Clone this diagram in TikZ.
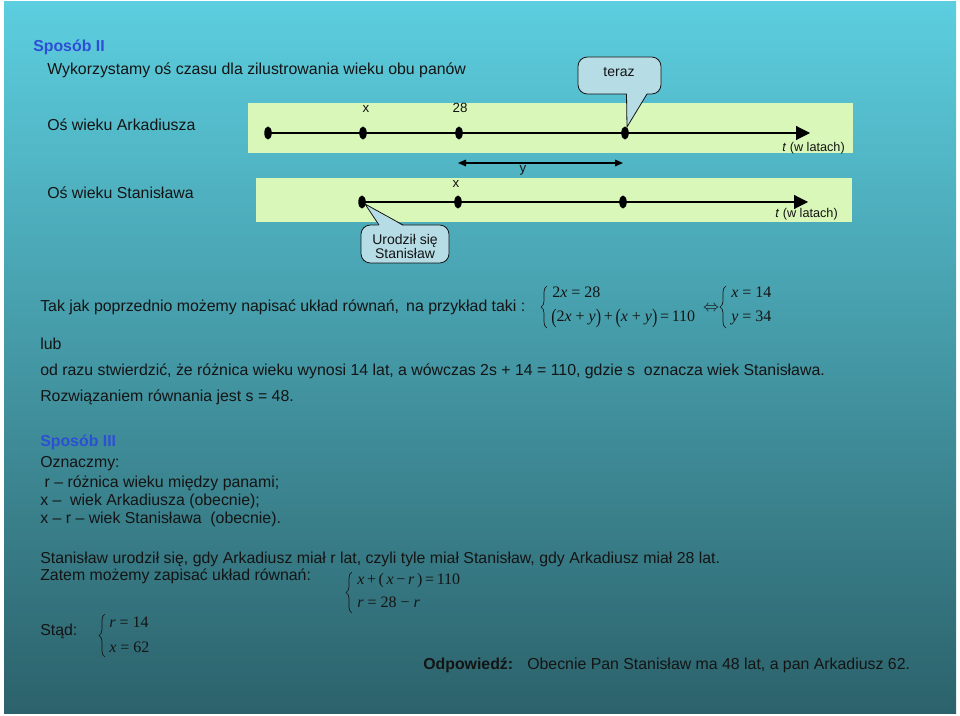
\documentclass[tikz,border=0pt]{standalone}
\usepackage{fontspec}
\setmainfont{Liberation Sans}
\newfontfamily\tms{Liberation Serif}
\usetikzlibrary{arrows.meta,decorations.pathreplacing,shapes.geometric}
\definecolor{bgtop}{HTML}{5CCEDF}
\definecolor{bgmid}{HTML}{46A7B7}
\definecolor{bgbot}{HTML}{2C626B}
\definecolor{band}{HTML}{D8F7B9}
\definecolor{callfill}{HTML}{B6DCE6}
\definecolor{blueh}{HTML}{2D4FD6}
\definecolor{ink}{HTML}{141414}
\newcommand\bp[1]{\raisebox{-0.12em}{\scalebox{1}[1.3]{#1}}}
\newcommand\ix[1]{\textit{#1}}
\begin{document}
\begin{tikzpicture}[x=0.75pt,y=-0.75pt,
  txt/.style={anchor=base west, inner sep=0pt, font=\fontsize{11.9}{14}\selectfont, text=ink},
  heading/.style={txt, font=\fontsize{11.9}{14}\selectfont\bfseries, text=blueh},
  lbl/.style={anchor=base, inner sep=0pt, font=\fontsize{10}{12}\selectfont, text=ink},
  eqn/.style={anchor=base west, inner sep=0pt, font=\fontsize{12}{14}\selectfont\tms, text=ink},
  dotnode/.style={ellipse, fill=black, inner sep=0pt, minimum width=5.6pt, minimum height=9.8pt},
  axis/.style={draw=black, line width=0.85pt},
  bigtip/.style={-{Triangle[length=10.5pt,width=10.5pt]}},
  callout/.style={fill=callfill, draw=ink, line width=0.6pt},
  sysbrace/.style={draw=ink, line width=0.5pt, decorate, decoration={brace, amplitude=4.5pt}}
]
\useasboundingbox (0,0) rectangle (960,716);
\fill[white] (0,0) rectangle (960,716);
\shade[top color=bgtop, middle color=bgmid, bottom color=bgbot] (4,2) rectangle (956,713);

% headings
\node[heading] (h2) at (33,52) {Sposób II};
\node[txt] (intro) at (47,75) {Wykorzystamy oś czasu dla zilustrowania wieku obu panów};

% bands
\fill[band] (248,103) rectangle (853,153);
\fill[band] (256,178) rectangle (852,222);

\node[txt] (ax1) at (47,131) {Oś wieku Arkadiusza};
\node[txt] (ax2) at (47,199) {Oś wieku Stanisława};

% upper timeline
\node[dotnode] (a1) at (268,133) {};
\node[dotnode] (a2) at (363,133) {};
\node[dotnode] (a3) at (459,133) {};
\node[dotnode] (a4) at (625,133) {};
\coordinate (aend) at (810,133);
\draw[axis,bigtip] (a1.center) -- (aend);
\node[lbl] (lx1) at (366,113) {x};
\node[lbl] (l28) at (460,113) {28};
\node[anchor=base east, inner sep=0pt, font=\fontsize{9.5}{12}\selectfont, text=ink] (t1) at (845,152) {\textit{t} (w latach)};

% middle arrow
\coordinate (m1) at (458,163);
\coordinate (m2) at (623,163);
\draw[line width=0.85pt, {Triangle[length=6pt,width=5pt]}-{Triangle[length=6pt,width=5pt]}] (m1) -- (m2);
\node[lbl] (ly) at (523,173) {y};

% lower timeline
\node[dotnode] (b1) at (362,202) {};
\node[dotnode] (b2) at (458,202) {};
\node[dotnode] (b3) at (623,202) {};
\coordinate (bend) at (808,202);
\draw[axis,bigtip] (b1.center) -- (bend);
\node[lbl] (lx2) at (456,188) {x};
\node[anchor=base east, inner sep=0pt, font=\fontsize{9.5}{12}\selectfont, text=ink] (t2) at (838,218) {\textit{t} (w latach)};

% callout teraz
\path[callout, rounded corners=7pt] (578,57) rectangle (661,94);
\coordinate (tt) at (627,127);
\fill[callfill] (626.5,93) -- (tt) -- (647,93) -- cycle;
\draw[ink, line width=0.6pt] (626.5,94) -- (tt) -- (647,94);
\node[lbl, font=\fontsize{10.5}{12}\selectfont] (teraz) at (619,77) {teraz};

% callout Urodzil sie
\path[callout, rounded corners=7pt] (361,225) rectangle (449,263);
\coordinate (tu) at (365,204);
\fill[callfill] (379,226) -- (tu) -- (403,226) -- cycle;
\draw[ink, line width=0.6pt] (379,225) -- (tu) -- (403,225);
\node[lbl, font=\fontsize{10.5}{12}\selectfont] (ur1) at (405,245) {Urodził się};
\node[lbl, font=\fontsize{10.5}{12}\selectfont] (ur2) at (405,259) {Stanisław};

% first system
\node[txt] (tak) at (40,312) {Tak jak poprzednio możemy napisać układ równań,\, na przykład taki :};
\draw[sysbrace] (547,328) -- (547,286);
\node[eqn] (e1) at (552,298) {2\ix{x} = 28};
\node[eqn] (e2) at (551,322) {\bp{(}2\ix{x} + \ix{y}\bp{)}\,+\,\bp{(}\ix{x} + \ix{y}\bp{)}\,=\,110};
\node[anchor=center, inner sep=0pt, font=\fontsize{12}{14}\selectfont, text=ink] (iff) at (711,309) {$\Leftrightarrow$};
\draw[sysbrace] (726,328) -- (726,286);
\node[eqn] (e3) at (731,298) {\ix{x} = 14};
\node[eqn] (e4) at (731,322) {\ix{y} = 34};

\node[txt] (lub) at (40,350) {lub};
\node[txt] (odr) at (40,376) {od razu stwierdzić, że różnica wieku wynosi 14 lat, a wówczas 2s + 14 = 110, gdzie s\ \ oznacza wiek Stanisława.};
\node[txt] (roz) at (40,402) {Rozwiązaniem równania jest s = 48.};

% Sposob III
\node[heading] (h3) at (40,446) {Sposób III};
\node[txt] (ozn) at (40,467) {Oznaczmy:};
\node[txt] (d1) at (40,487) {\ r – różnica wieku między panami;};
\node[txt] (d2) at (40,505) {x –\ \ wiek Arkadiusza (obecnie);};
\node[txt] (d3) at (40,523) {x – r – wiek Stanisława\ \ (obecnie).};

\node[txt] (st) at (40,563) {Stanisław urodził się, gdy Arkadiusz miał r lat, czyli tyle miał Stanisław, gdy Arkadiusz miał 28 lat.};
\node[txt] (zat) at (40,580) {Zatem możemy zapisać układ równań:};
\draw[sysbrace] (352,613) -- (352,572);
\node[eqn] (f1) at (357,584) {\ix{x}\,+\,(\,\ix{x}\,−\,\ix{r}\,)\,=\,110};
\node[eqn] (f2) at (357,607) {\ix{r} = 28 − \ix{r}};

\node[txt] (stad) at (40,635) {Stąd:};
\draw[sysbrace] (105,657) -- (105,614);
\node[eqn] (g1) at (109,627) {\ix{r} = 14};
\node[eqn] (g2) at (109,652) {\ix{x} = 62};

\node[txt, font=\fontsize{11.9}{14}\selectfont\bfseries] (odp) at (423,669) {Odpowiedź:};
\node[txt] (ans) at (527,669) {Obecnie Pan Stanisław ma 48 lat, a pan Arkadiusz 62.};
\end{tikzpicture}
\end{document}
